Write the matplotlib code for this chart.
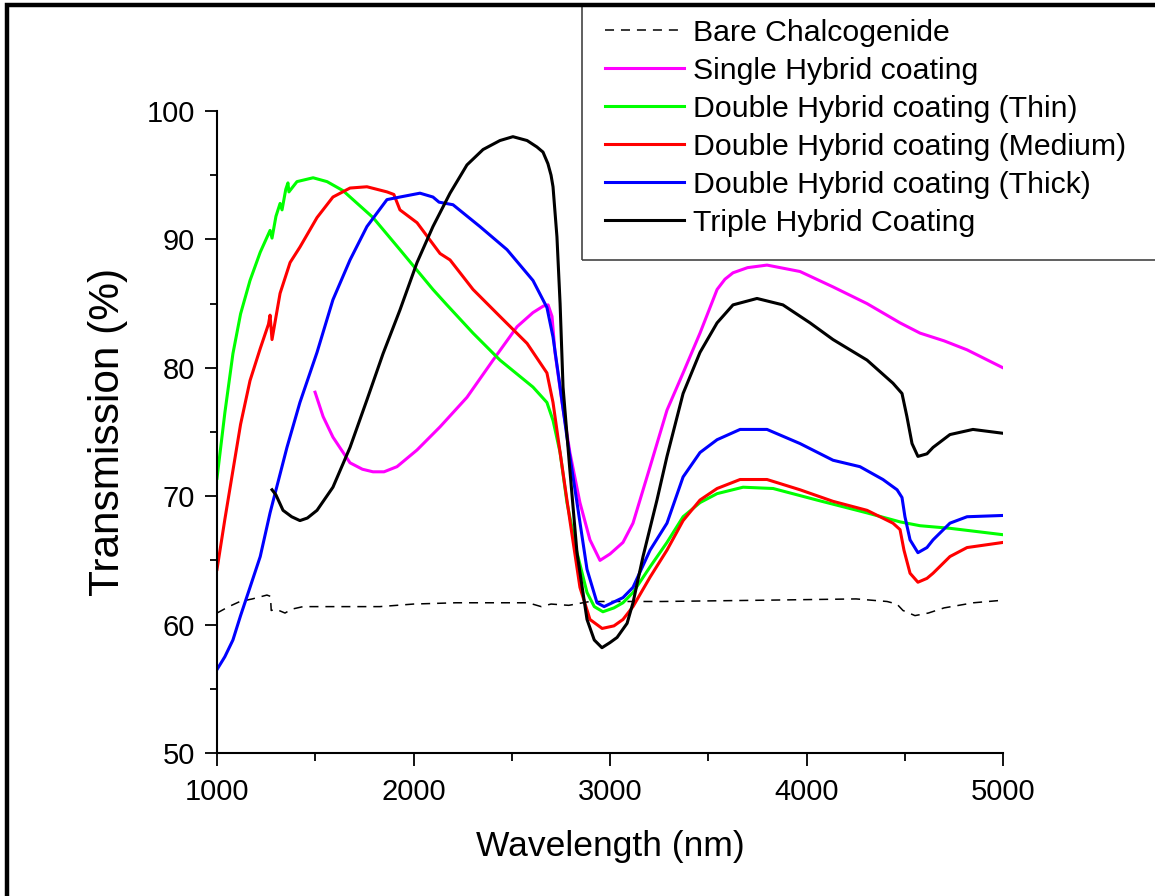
import matplotlib
matplotlib.use('Agg')
import matplotlib.pyplot as plt
from matplotlib.patches import Rectangle
from matplotlib.ticker import MultipleLocator

plt.rcParams.update({'font.family': ['Liberation Sans', 'DejaVu Sans'],
                     'lines.scale_dashes': False})

# --- dados (comprimento de onda em nm, transmissão em %) ---
bare_x = [1000, 1060, 1117, 1180, 1254, 1272, 1276, 1300, 1346, 1380, 1438, 1600, 1829, 2000,
          2216, 2583, 2650, 2700, 2790, 2898, 3265, 3784, 4252, 4410, 4460, 4491, 4552, 4620,
          4700, 4850, 5000]
bare_y = [60.9, 61.4, 61.8, 62.0, 62.3, 62.2, 61.1, 61.2, 60.9, 61.2, 61.4, 61.4, 61.4, 61.6,
          61.7, 61.7, 61.4, 61.6, 61.5, 61.8, 61.8, 61.9, 62.0, 61.8, 61.6, 61.1, 60.7, 60.9,
          61.3, 61.7, 61.9]

single_x = [1499, 1540, 1590, 1677, 1740, 1794, 1850, 1916, 2018, 2135, 2272, 2405, 2527, 2608,
            2660, 2685, 2705, 2720, 2756, 2796, 2847, 2898, 2949, 3000, 3066, 3117, 3204, 3290,
            3372, 3458, 3545, 3585, 3626, 3700, 3799, 3967, 4135, 4308, 4476, 4578, 4700, 4817,
            5000]
single_y = [78.1, 76.2, 74.6, 72.6, 72.1, 71.9, 71.9, 72.3, 73.6, 75.4, 77.7, 80.6, 83.2, 84.3,
            84.8, 84.9, 84.0, 81.2, 77.3, 73.4, 69.5, 66.6, 65.0, 65.5, 66.4, 67.9, 72.3, 76.7,
            79.6, 82.7, 86.1, 86.9, 87.4, 87.8, 88.0, 87.5, 86.3, 85.0, 83.5, 82.7, 82.1, 81.4,
            80.0]

thin_x = [1000, 1040, 1081, 1120, 1168, 1220, 1270, 1280, 1300, 1321, 1331, 1350, 1361, 1366,
          1407, 1489, 1560, 1641, 1794, 1931, 2099, 2170, 2303, 2440, 2608, 2679, 2710, 2746,
          2781, 2832, 2883, 2920, 2964, 3020, 3066, 3117, 3204, 3290, 3372, 3458, 3545, 3677,
          3830, 4053, 4308, 4476, 4578, 4730, 5000]
thin_y = [71.4, 76.5, 81.1, 84.2, 86.8, 89.0, 90.7, 90.1, 91.8, 92.8, 92.3, 93.9, 94.4, 93.7,
          94.5, 94.8, 94.5, 93.8, 91.7, 89.2, 86.1, 84.9, 82.7, 80.6, 78.5, 77.3, 75.9, 73.4,
          69.5, 65.6, 62.5, 61.4, 61.0, 61.3, 61.7, 62.5, 64.5, 66.4, 68.4, 69.5, 70.2, 70.7,
          70.6, 69.7, 68.7, 68.0, 67.7, 67.5, 67.0]

medium_x = [1000, 1040, 1081, 1120, 1168, 1220, 1262, 1270, 1280, 1297, 1321, 1372, 1422, 1509,
            1590, 1677, 1763, 1865, 1900, 1931, 2018, 2135, 2186, 2303, 2440, 2578, 2679, 2710,
            2746, 2796, 2847, 2898, 2960, 3020, 3066, 3117, 3204, 3290, 3372, 3458, 3545, 3662,
            3799, 3967, 4135, 4308, 4440, 4476, 4496, 4527, 4567, 4613, 4644, 4730, 4817, 5000]
medium_y = [64.3, 68.2, 72.0, 75.6, 79.0, 81.5, 83.4, 84.1, 82.2, 83.7, 85.8, 88.2, 89.4, 91.7,
            93.3, 94.0, 94.1, 93.7, 93.5, 92.3, 91.3, 88.9, 88.4, 86.1, 84.0, 81.9, 79.6, 77.3,
            73.4, 68.1, 62.9, 60.4, 59.7, 59.9, 60.4, 61.4, 63.7, 65.8, 68.1, 69.7, 70.6, 71.3,
            71.3, 70.5, 69.6, 68.9, 67.9, 67.4, 65.8, 64.0, 63.3, 63.6, 64.0, 65.3, 66.0, 66.4]

thick_x = [1000, 1040, 1081, 1120, 1168, 1220, 1270, 1356, 1422, 1509, 1590, 1677, 1763, 1865,
           1931, 2033, 2099, 2130, 2201, 2338, 2476, 2608, 2679, 2710, 2746, 2781, 2832, 2883,
           2934, 2970, 3066, 3117, 3204, 3290, 3372, 3458, 3545, 3662, 3799, 3967, 4135, 4272,
           4389, 4461, 4486, 4501, 4527, 4567, 4613, 4644, 4730, 4817, 5000]
thick_y = [56.5, 57.5, 58.8, 60.7, 62.9, 65.3, 68.7, 73.8, 77.3, 81.2, 85.3, 88.4, 91.0, 93.1,
           93.3, 93.6, 93.3, 92.9, 92.7, 91.0, 89.2, 86.8, 84.7, 82.4, 78.5, 74.6, 69.5, 64.3,
           61.7, 61.4, 62.1, 62.9, 65.8, 67.9, 71.5, 73.4, 74.4, 75.2, 75.2, 74.1, 72.8, 72.3,
           71.3, 70.5, 69.9, 68.4, 66.6, 65.6, 66.0, 66.6, 67.9, 68.4, 68.5]

triple_x = [1280, 1300, 1336, 1380, 1422, 1460, 1509, 1590, 1677, 1763, 1845, 1931, 2018, 2099,
            2186, 2272, 2354, 2440, 2506, 2578, 2628, 2659, 2684, 2700, 2710, 2730, 2746, 2761,
            2796, 2832, 2883, 2920, 2959, 3000, 3036, 3087, 3117, 3168, 3239, 3290, 3372, 3458,
            3545, 3626, 3748, 3880, 4018, 4135, 4308, 4440, 4486, 4511, 4537, 4567, 4613, 4644,
            4730, 4847, 5000]
triple_y = [70.5, 70.1, 68.9, 68.4, 68.1, 68.3, 68.9, 70.7, 73.8, 77.5, 81.1, 84.5, 88.2, 91.0,
            93.6, 95.8, 97.0, 97.7, 98.0, 97.7, 97.2, 96.8, 95.9, 95.0, 94.1, 90.2, 85.0, 78.5,
            72.0, 65.6, 60.4, 58.8, 58.2, 58.6, 59.0, 60.1, 61.7, 65.3, 69.7, 73.1, 78.0, 81.2,
            83.5, 84.9, 85.4, 84.9, 83.5, 82.2, 80.6, 78.8, 78.0, 76.2, 74.1, 73.1, 73.3, 73.8,
            74.8, 75.2, 74.9]

W, H = 1155, 896
fig = plt.figure(figsize=(W / 100, H / 100), dpi=100)
ax = fig.add_axes([217 / W, 1 - 753 / H, 786 / W, 642 / H])

lw = 2.2
ax.plot(bare_x, bare_y, color='black', lw=1.1, dashes=(6.5, 5), label='Bare Chalcogenide')
ax.plot(single_x, single_y, color='#ff00ff', lw=lw, label='Single Hybrid coating')
ax.plot(thin_x, thin_y, color='#00ff00', lw=lw, label='Double Hybrid coating (Thin)')
ax.plot(medium_x, medium_y, color='#ff0000', lw=lw, label='Double Hybrid coating (Medium)')
ax.plot(thick_x, thick_y, color='#0000ff', lw=lw, label='Double Hybrid coating (Thick)')
ax.plot(triple_x, triple_y, color='black', lw=lw, label='Triple Hybrid Coating')

ax.set_xlim(1000, 5000)
ax.set_ylim(50, 100)
ax.xaxis.set_major_locator(MultipleLocator(1000))
ax.xaxis.set_minor_locator(MultipleLocator(500))
ax.yaxis.set_major_locator(MultipleLocator(10))
ax.yaxis.set_minor_locator(MultipleLocator(5))

for s in ['top', 'right']:
    ax.spines[s].set_visible(False)
for s in ['left', 'bottom']:
    ax.spines[s].set_linewidth(1.5)

ax.tick_params(which='major', direction='out', length=9, width=1.3, labelsize=21)
ax.tick_params(axis='x', which='major', pad=9)
ax.tick_params(axis='y', which='major', pad=7)
ax.tick_params(which='minor', direction='out', length=5.4, width=1.3)

ax.set_xlabel('Wavelength (nm)', fontsize=25.5)
ax.set_ylabel('Transmission (%)', fontsize=30.5)
ax.xaxis.set_label_coords(0.5, -0.12)
ax.yaxis.set_label_coords(-0.113, 0.5)

# legenda sem moldura + caixa desenhada à parte
ax.legend(loc='upper left', bbox_to_anchor=(605 / W, 1 - 19 / H), bbox_transform=fig.transFigure,
          frameon=False, fontsize=21.8, borderpad=0, borderaxespad=0,
          handlelength=2.6, handletextpad=0.3, labelspacing=0.33)
fig.add_artist(Rectangle((582 / W, 1 - 260 / H), 600 / W, 255 / H, transform=fig.transFigure,
                         fill=False, edgecolor='#444444', lw=1.2, clip_on=False))

# moldura preta da figura (topo e esquerda)
fig.add_artist(Rectangle((7 / W, -0.2), 1.5, 1.2 - 5 / H, transform=fig.transFigure,
                         fill=False, edgecolor='black', lw=3.2, clip_on=False))

fig.savefig('out.png', dpi=100)
